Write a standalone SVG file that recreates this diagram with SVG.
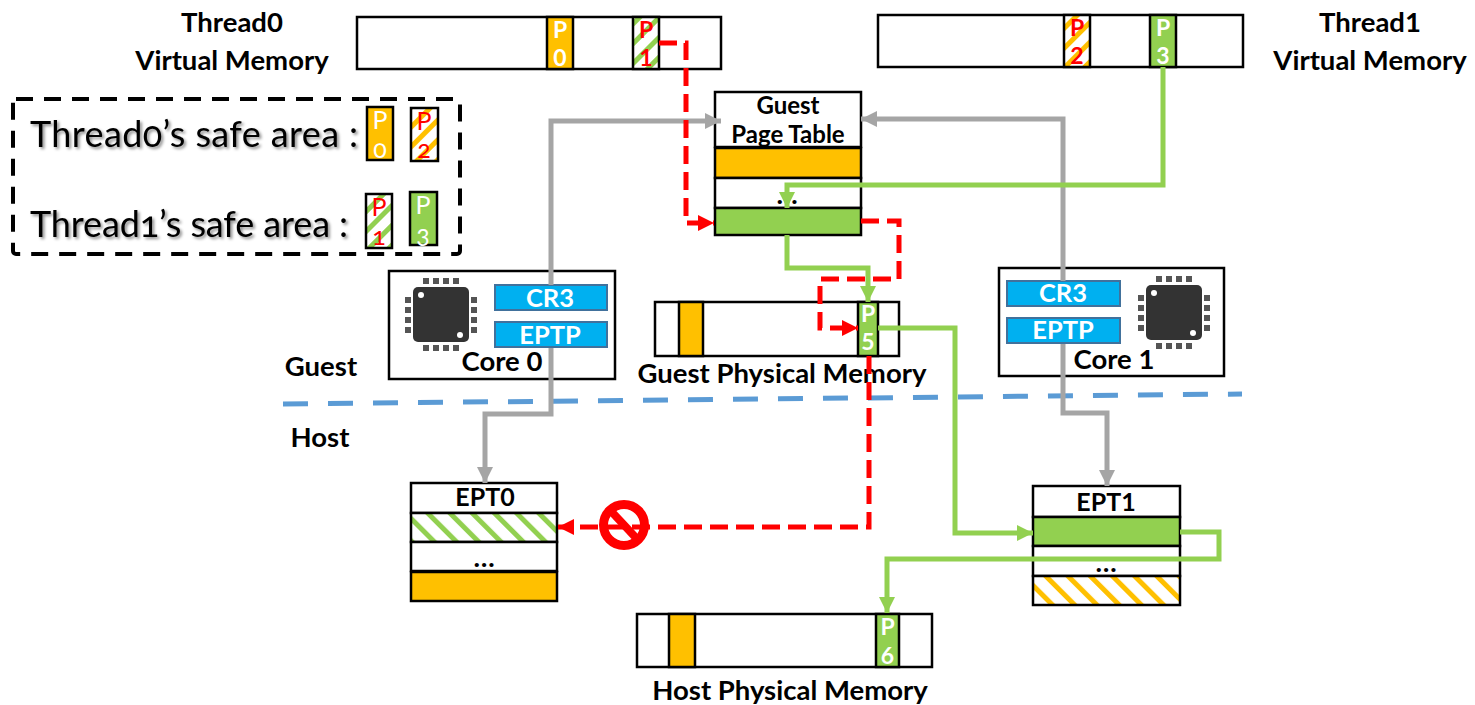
<svg xmlns="http://www.w3.org/2000/svg" xmlns:xlink="http://www.w3.org/1999/xlink" width="1475" height="705" viewBox="0 0 1475 705">
<style>
text{font-family:Lato,"Liberation Sans",sans-serif;fill:#000}
.l{font-weight:700;font-size:27.500px}
.t{font-weight:700;font-size:24px}
.c{text-anchor:middle}
.b{fill:#fff;stroke:#000;stroke-width:2.5}
.am{fill:#FFC000;stroke:#000;stroke-width:2.5}
.gn{fill:#92D050;stroke:#000;stroke-width:2.5}
.hg{fill:url(#hatchG);stroke:#000;stroke-width:2.5}
.ha{fill:url(#hatchA);stroke:#000;stroke-width:2.5}
.hgb{fill:url(#hatchGb);stroke:#000;stroke-width:2.5}
.hab{fill:url(#hatchAb);stroke:#000;stroke-width:2.5}
.reg{fill:#00B0F0;stroke:#41719C;stroke-width:2}
.rt{font-weight:700;font-size:25.500px;fill:#fff;text-anchor:middle}
.w{font-weight:700;font-size:23px;fill:#fff;text-anchor:middle}
.r{font-weight:700;font-size:23px;fill:#f00;text-anchor:middle}
.lw{font-size:25px;fill:#fff;text-anchor:middle;font-feature-settings:"onum"}
.lr{font-size:25px;fill:#f00;text-anchor:middle;font-feature-settings:"onum"}
.big{font-size:36px;font-feature-settings:"onum";filter:url(#shadow)}
.gray{fill:none;stroke:#A5A5A5;stroke-width:5}
.green{fill:none;stroke:#92D050;stroke-width:5}
.red{fill:none;stroke:#f00;stroke-width:5;stroke-dasharray:18 8}
</style>
<defs>
<pattern id="hatchG" width="14" height="14" patternUnits="userSpaceOnUse" patternTransform="rotate(45)"><rect width="14" height="14" fill="#fff"/><rect width="5" height="14" fill="#92D050"/></pattern>
<pattern id="hatchA" width="14" height="14" patternUnits="userSpaceOnUse" patternTransform="rotate(45)"><rect width="14" height="14" fill="#fff"/><rect width="5" height="14" fill="#FFC000"/></pattern>
<pattern id="hatchGb" width="15.7" height="15.7" patternUnits="userSpaceOnUse" patternTransform="rotate(-45)"><rect width="15.7" height="15.7" fill="#fff"/><rect width="5" height="15.7" fill="#92D050"/></pattern>
<pattern id="hatchAb" width="15.7" height="15.7" patternUnits="userSpaceOnUse" patternTransform="rotate(-45)"><rect width="15.7" height="15.7" fill="#fff"/><rect width="5" height="15.7" fill="#FFC000"/></pattern>
<filter id="shadow" x="-5%" y="-20%" width="110%" height="150%"><feDropShadow dx="2" dy="2" stdDeviation="1.5" flood-color="#000" flood-opacity="0.45"/></filter>
<marker id="aGray" markerUnits="userSpaceOnUse" markerWidth="17" markerHeight="18" refX="16" refY="9" orient="auto"><path d="M0 1L16 9L0 17z" fill="#A5A5A5"/></marker>
<marker id="aGreen" markerUnits="userSpaceOnUse" markerWidth="17" markerHeight="18" refX="16" refY="9" orient="auto"><path d="M0 1L16 9L0 17z" fill="#92D050"/></marker>
<marker id="aRed" markerUnits="userSpaceOnUse" markerWidth="17" markerHeight="18" refX="16" refY="9" orient="auto"><path d="M0 1L16 9L0 17z" fill="#f00"/></marker>
<g id="chip">
<rect x="0" y="0" width="56" height="55" rx="5" fill="#333"/>
<circle cx="8" cy="8" r="3" fill="#fff"/><circle cx="47" cy="48" r="3" fill="#fff"/>
<g fill="#555">
<rect x="10" y="-9" width="6" height="6"/><rect x="20" y="-9" width="6" height="6"/><rect x="30" y="-9" width="6" height="6"/><rect x="40" y="-9" width="6" height="6"/>
<rect x="10" y="58" width="6" height="6"/><rect x="20" y="58" width="6" height="6"/><rect x="30" y="58" width="6" height="6"/><rect x="40" y="58" width="6" height="6"/>
<rect x="-8" y="10" width="6" height="6"/><rect x="-8" y="20" width="6" height="6"/><rect x="-8" y="30" width="6" height="6"/><rect x="-8" y="40" width="6" height="6"/>
<rect x="58" y="10" width="6" height="6"/><rect x="58" y="20" width="6" height="6"/><rect x="58" y="30" width="6" height="6"/><rect x="58" y="40" width="6" height="6"/>
</g>
</g>
</defs>

<g id="thread0-vm">
<rect class="b" x="357" y="17" width="364" height="52"/>
<rect class="am" x="547" y="17" width="26" height="52"/>
<text class="w" x="560" y="38">P</text><text class="w" x="560" y="66">0</text>
<rect class="hg" x="633" y="17" width="26" height="52"/>
<text class="r" x="646" y="38">P</text><text class="r" x="646" y="66">1</text>
<text class="l c" x="232" y="32">Thread0</text>
<text class="l c" x="232" y="70">Virtual Memory</text>
</g>

<g id="thread1-vm">
<rect class="b" x="878" y="15" width="365" height="52"/>
<rect class="ha" x="1064" y="15" width="26" height="52"/>
<text class="r" x="1077" y="36">P</text><text class="r" x="1077" y="64">2</text>
<rect class="gn" x="1150" y="15" width="26" height="52"/>
<text class="w" x="1163" y="36">P</text><text class="w" x="1163" y="64">3</text>
<text class="l c" x="1370" y="32">Thread1</text>
<text class="l c" x="1370" y="70">Virtual Memory</text>
</g>

<g id="legend">
<rect x="13" y="99" width="447" height="155" rx="3" fill="none" stroke="#000" stroke-width="4" stroke-dasharray="17 11"/>
<text class="big" x="30" y="147" textLength="328">Thread0’s safe area :</text>
<text class="big" x="30" y="237" textLength="318">Thread1’s safe area :</text>
<rect class="am" x="367" y="107" width="26" height="53"/>
<text class="lw" x="380" y="129">P</text><text class="lw" x="380" y="158">0</text>
<rect class="ha" x="411" y="108" width="27" height="53"/>
<text class="lr" x="424" y="130">P</text><text class="lr" x="424" y="158">2</text>
<rect class="hg" x="366" y="194" width="26" height="54"/>
<text class="lr" x="379" y="216">P</text><text class="lr" x="379" y="245">1</text>
<rect class="gn" x="410" y="192" width="27" height="53"/>
<text class="lw" x="423" y="214">P</text><text class="lw" x="423" y="243">3</text>
</g>

<g id="guest-page-table">
<rect class="b" x="715" y="92" width="146" height="55"/>
<rect class="am" x="715" y="148" width="146" height="30"/>
<rect class="b" x="715" y="178" width="146" height="30"/>
<rect class="gn" x="715" y="208" width="146" height="27"/>
<text class="t c" x="788" y="114">Guest</text>
<text class="t c" x="788" y="143">Page Table</text>
<text class="l c" x="787" y="204">…</text>
</g>

<g id="core0">
<rect class="b" x="389" y="271" width="226" height="108"/>
<use xlink:href="#chip" href="#chip" x="413" y="287"/>
<rect class="reg" x="495" y="285" width="112" height="25"/>
<text class="rt" x="550" y="307">CR3</text>
<rect class="reg" x="495" y="322" width="112" height="25"/>
<text class="rt" x="550" y="344">EPTP</text>
<text class="l c" x="502" y="371">Core 0</text>
</g>

<g id="core1">
<rect class="b" x="999" y="268" width="225" height="108"/>
<use xlink:href="#chip" href="#chip" x="1146" y="285"/>
<rect class="reg" x="1007" y="281" width="113" height="25"/>
<text class="rt" x="1063" y="302">CR3</text>
<rect class="reg" x="1007" y="318" width="113" height="25"/>
<text class="rt" x="1063" y="339">EPTP</text>
<text class="l c" x="1114" y="369">Core 1</text>
</g>

<g id="guest-physical-memory">
<rect class="b" x="655" y="302" width="244" height="54"/>
<rect class="am" x="679" y="302" width="24" height="54"/>
<rect class="gn" x="858" y="302" width="20" height="54"/>
<text class="w" x="868" y="322">P</text><text class="w" x="868" y="350">5</text>
<text class="l c" x="782" y="383">Guest Physical Memory</text>
</g>

<g id="ept0">
<rect class="b" x="411" y="483" width="146" height="30"/>
<rect class="hgb" x="411" y="513" width="146" height="29"/>
<rect class="b" x="411" y="542" width="146" height="29"/>
<rect class="am" x="411" y="572" width="146" height="29"/>
<text class="t c" x="485" y="506" style="font-size:25px">EPT0</text>
<text class="l c" x="484" y="567">…</text>
</g>

<g id="ept1">
<rect class="b" x="1033" y="486" width="147" height="31"/>
<rect class="gn" x="1033" y="517" width="147" height="29"/>
<rect class="b" x="1033" y="546" width="147" height="30"/>
<rect class="hab" x="1033" y="576" width="147" height="29"/>
<text class="t c" x="1106" y="511" style="font-size:25px">EPT1</text>
<text class="l c" x="1106" y="572">…</text>
</g>

<g id="host-physical-memory">
<rect class="b" x="637" y="614" width="295" height="53"/>
<rect class="am" x="669" y="614" width="26" height="53"/>
<rect class="gn" x="876" y="614" width="23" height="53"/>
<text class="w" x="887.500" y="635">P</text><text class="w" x="887.500" y="664">6</text>
<text class="l c" x="790" y="700">Host Physical Memory</text>
</g>

<g id="boundary">
<line x1="283" y1="404" x2="1242" y2="394" stroke="#5B9BD5" stroke-width="5" stroke-dasharray="25 20"/>
<text class="l c" x="321" y="376">Guest</text>
<text class="l c" x="320" y="447">Host</text>
</g>

<g id="connectors">
<path class="gray" marker-end="url(#aGray)" d="M551 285V121H721"/>
<path class="gray" marker-end="url(#aGray)" d="M1063 281V119H861"/>
<path class="gray" marker-end="url(#aGray)" d="M551 348V414H485V483"/>
<path class="gray" marker-end="url(#aGray)" d="M1063 344V413H1107V486"/>
<path class="red" marker-end="url(#aRed)" d="M659 43H686V223H714"/>
<path class="red" marker-end="url(#aRed)" d="M861 221H899V279H820V328H858"/>
<path class="red" marker-end="url(#aRed)" d="M869 356V527H558"/>
<path class="green" marker-end="url(#aGreen)" d="M1163 67V185H787V208"/>
<path class="green" marker-end="url(#aGreen)" d="M787 235V268H868V302"/>
<path class="green" marker-end="url(#aGreen)" d="M878 328H955V533H1033"/>
<path class="green" marker-end="url(#aGreen)" d="M1180 532H1219V559H887V613"/>
<g id="blocked" fill="none" stroke="#f00">
<circle cx="624" cy="525" r="20.500" stroke-width="9" fill="none"/>
<line x1="610" y1="510" x2="638" y2="540" stroke-width="8"/>
</g>
</g>
</svg>
